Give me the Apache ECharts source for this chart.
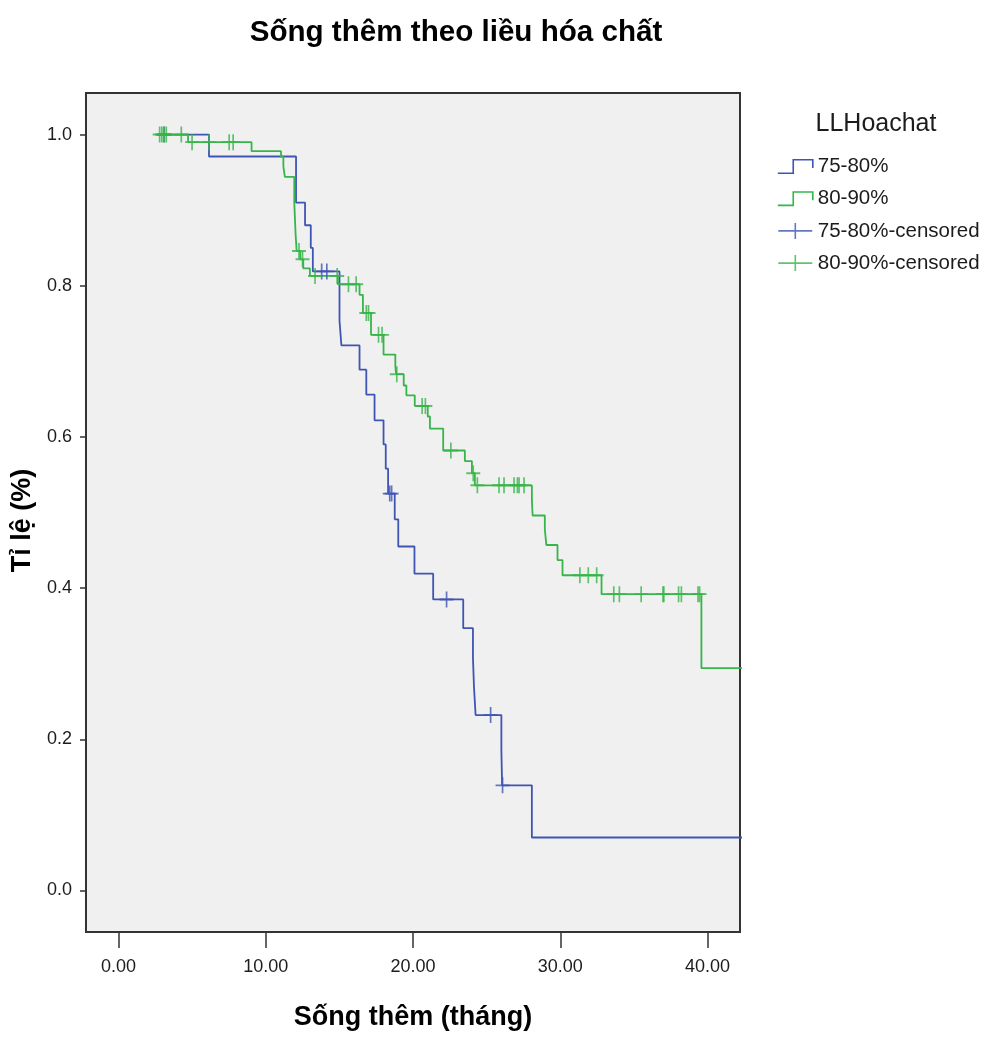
<!DOCTYPE html>
<html>
<head>
<meta charset="utf-8">
<title>Sống thêm theo liều hóa chất</title>
<script src="https://cdn.jsdelivr.net/npm/echarts@6/dist/echarts.min.js"></script>
<style>
  html, body { margin: 0; padding: 0; background: #ffffff; }
  #chart { width: 989px; height: 1037px; }
</style>
</head>
<body>
<div id="chart"></div>
<script>
// Kaplan-Meier survival by chemotherapy dose group (time in months)
const groupNames = ['75-80%', '80-90%'];
const censorNames = ['75-80%-censored', '80-90%-censored'];

// 75-80% group: event times and survival after each event (last entry = end of follow-up)
const lowStepTimes = [2.6, 6.15, 12.06, 12.67, 13.06, 13.2, 15.01, 15.14, 16.37, 16.83, 17.39, 18.0, 18.15, 18.31, 18.76, 19.0, 20.1, 21.37, 23.41, 24.07, 24.14, 24.25, 26.0, 26.05, 28.07, 44];
const lowStepSurv  = [1.0, 0.971, 0.910, 0.880, 0.850, 0.819, 0.754, 0.721, 0.689, 0.656, 0.622, 0.590, 0.558, 0.525, 0.491, 0.455, 0.419, 0.385, 0.347, 0.308, 0.269, 0.232, 0.185, 0.139, 0.070, 0.070];
const lowCensorTimes = [3.1, 13.8, 14.15, 18.42, 18.55, 22.28, 25.27, 26.08];

// 80-90% group
const highStepTimes = [2.6, 4.73, 9.04, 11.04, 11.2, 11.3, 11.94, 12.03, 12.1, 12.35, 12.55, 13.0, 14.9, 16.37, 16.6, 17.15, 18.0, 18.8, 18.85, 19.37, 19.55, 20.12, 21.0, 21.15, 22.05, 23.52, 24.0, 24.2, 28.07, 28.12, 28.95, 29.05, 29.81, 30.15, 32.8, 39.58, 44];
const highStepSurv  = [1.0, 0.990, 0.978, 0.971, 0.958, 0.944, 0.910, 0.868, 0.846, 0.835, 0.823, 0.813, 0.802, 0.788, 0.764, 0.735, 0.709, 0.694, 0.683, 0.668, 0.655, 0.641, 0.627, 0.611, 0.582, 0.568, 0.552, 0.536, 0.517, 0.496, 0.478, 0.457, 0.437, 0.417, 0.392, 0.294, 0.294];
const highCensorTimes = [2.8, 2.95, 3.1, 3.25, 4.27, 5.0, 6.15, 7.52, 7.79, 12.26, 12.5, 13.35, 14.85, 15.62, 16.14, 16.83, 16.98, 17.66, 17.9, 18.9, 20.62, 20.84, 22.57, 24.09, 24.37, 25.84, 26.18, 26.86, 27.09, 27.2, 27.54, 31.33, 31.9, 32.47, 33.63, 34.01, 35.49, 36.97, 37.03, 38.03, 38.22, 39.35, 39.46];

const xTicks = [0, 10, 20, 30, 40];
const yTicks = [0, 0.2, 0.4, 0.6, 0.8, 1.0];

const blue = '#3f55b3';
const green = '#37b54a';
const textColor = '#1c1c1c';
const fontFamily = '"Liberation Sans", Arial, Helvetica, sans-serif';

// survival level of a step curve at time t
function levelAt(times, surv, t) {
  let s = surv[0];
  for (let i = 0; i < times.length; i++) {
    if (times[i] <= t) s = surv[i];
  }
  return s;
}
const pairs = (xs, ys) => xs.map((x, i) => [x, ys[i]]);
const censorPoints = (ct, times, surv) => ct.map(t => [t, levelAt(times, surv, t)]);

const stepIcon = 'path://M0,14 L15,14 L15,1 L34,1 L34,9';
const plusIcon = 'path://M0,8 L34,8 M17,0 L17,16';
const plusSymbol = 'path://M0,8 L14,8 M7,0 L7,16';

const chart = echarts.init(document.getElementById('chart'), null, { renderer: 'canvas' });

chart.setOption({
  backgroundColor: '#ffffff',
  animation: false,
  textStyle: { fontFamily: fontFamily, color: textColor },
  title: [
    {
      text: 'Sống thêm theo liều hóa chất',
      left: 451, top: 13, textAlign: 'center',
      textStyle: { fontSize: 29.6, fontWeight: 'bold', color: '#000', fontFamily: fontFamily }
    },
    {
      text: 'LLHoachat',
      left: 871, top: 107, textAlign: 'center',
      textStyle: { fontSize: 25, fontWeight: 'normal', color: textColor, fontFamily: fontFamily }
    }
  ],
  legend: {
    orient: 'vertical',
    left: 772, top: 151,
    itemWidth: 35, itemHeight: 16, itemGap: 11.2,
    selectedMode: false,
    textStyle: { fontSize: 20.5, color: textColor, fontFamily: fontFamily },
    data: [
      { name: groupNames[0], icon: stepIcon, itemStyle: { color: 'rgba(0,0,0,0)', borderColor: blue, borderWidth: 1.6 } },
      { name: groupNames[1], icon: stepIcon, itemStyle: { color: 'rgba(0,0,0,0)', borderColor: green, borderWidth: 1.6 } },
      { name: censorNames[0], icon: plusIcon, itemStyle: { color: 'rgba(0,0,0,0)', borderColor: blue, borderWidth: 1.6 } },
      { name: censorNames[1], icon: plusIcon, itemStyle: { color: 'rgba(0,0,0,0)', borderColor: green, borderWidth: 1.6 } }
    ]
  },
  grid: {
    left: 86, right: 249, top: 93, bottom: 105,
    show: true,
    backgroundColor: '#f0f0f0',
    borderColor: '#333333',
    borderWidth: 2
  },
  xAxis: {
    type: 'value',
    min: -2.2, max: 42.2,
    name: 'Sống thêm (tháng)',
    nameLocation: 'middle',
    nameGap: 72,
    nameTextStyle: { fontSize: 27, fontWeight: 'bold', color: '#000', fontFamily: fontFamily },
    axisLine: { show: false, onZero: false },
    axisTick: { show: true, length: 16, customValues: xTicks, lineStyle: { color: '#333', width: 1.5 } },
    axisLabel: {
      customValues: xTicks, margin: 26, fontSize: 18, color: textColor,
      formatter: v => v.toFixed(2)
    },
    splitLine: { show: false }
  },
  yAxis: {
    type: 'value',
    min: -0.055, max: 1.055,
    name: 'Tỉ lệ (%)',
    nameLocation: 'middle',
    nameGap: 50,
    nameRotate: 90,
    nameTextStyle: { fontSize: 27, fontWeight: 'bold', color: '#000', fontFamily: fontFamily, padding: [0, 16, 0, 0] },
    axisLine: { show: false, onZero: false },
    axisTick: { show: true, length: 6, customValues: yTicks, lineStyle: { color: '#333', width: 1.5 } },
    axisLabel: {
      customValues: yTicks, margin: 14, fontSize: 18, color: textColor,
      formatter: v => v.toFixed(1)
    },
    splitLine: { show: false }
  },
  series: [
    {
      name: groupNames[0], type: 'line', step: 'end',
      data: pairs(lowStepTimes, lowStepSurv),
      showSymbol: false, symbol: 'none', clip: true, silent: true,
      itemStyle: { color: blue },
      lineStyle: { color: blue, width: 1.8 },
      z: 2
    },
    {
      name: groupNames[1], type: 'line', step: 'end',
      data: pairs(highStepTimes, highStepSurv),
      showSymbol: false, symbol: 'none', clip: true, silent: true,
      itemStyle: { color: green },
      lineStyle: { color: green, width: 1.8 },
      z: 3
    },
    {
      name: censorNames[0], type: 'scatter',
      data: censorPoints(lowCensorTimes, lowStepTimes, lowStepSurv),
      symbol: plusSymbol, symbolSize: [14, 16], symbolKeepAspect: false, silent: true,
      itemStyle: { color: 'rgba(0,0,0,0)', borderColor: blue, borderWidth: 1.8 },
      z: 4
    },
    {
      name: censorNames[1], type: 'scatter',
      data: censorPoints(highCensorTimes, highStepTimes, highStepSurv),
      symbol: plusSymbol, symbolSize: [14, 16], symbolKeepAspect: false, silent: true,
      itemStyle: { color: 'rgba(0,0,0,0)', borderColor: green, borderWidth: 1.8 },
      z: 5
    }
  ]
});
</script>
</body>
</html>
